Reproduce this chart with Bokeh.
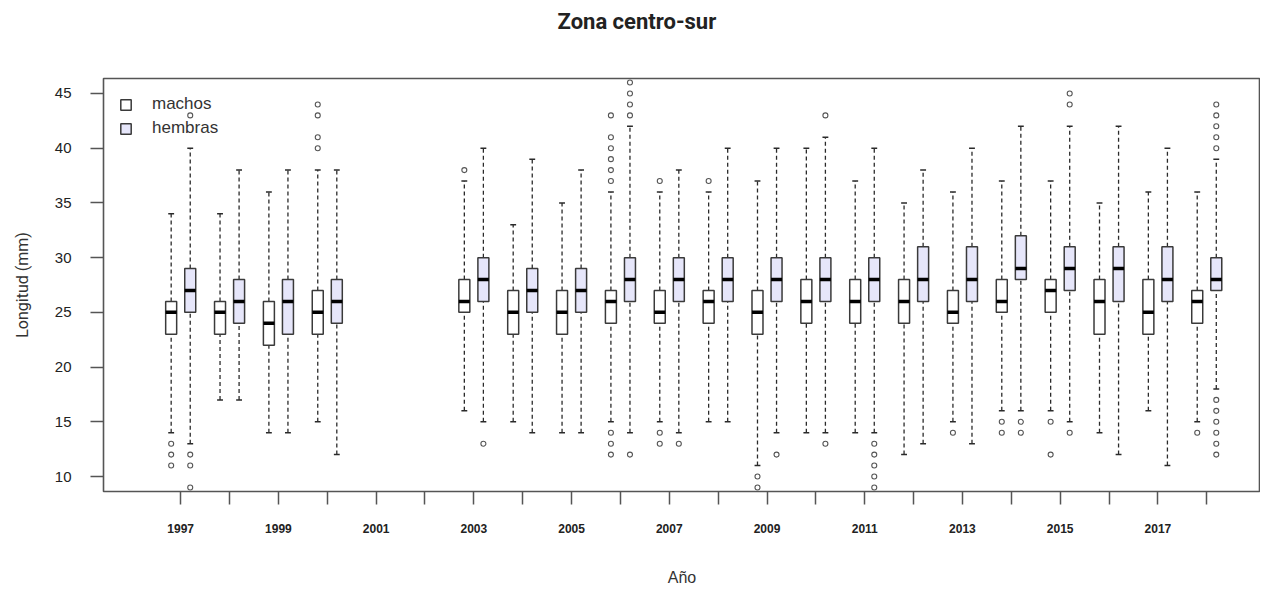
from bokeh.plotting import figure
from bokeh.models import ColumnDataSource, FixedTicker, Legend, LegendItem, Range1d, Title
from bokeh.embed import file_html
from bokeh.resources import INLINE

# ---- data ----
years = [1997, 1998, 1999, 2000, 2003, 2004, 2005, 2006, 2007, 2008,
         2009, 2010, 2011, 2012, 2013, 2014, 2015, 2016, 2017, 2018]

m_low  = [14, 17, 14, 15, 16, 15, 14, 15, 15, 15, 11, 14, 14, 12, 15, 16, 16, 14, 16, 15]
m_q1   = [23, 23, 22, 23, 25, 23, 23, 24, 24, 24, 23, 24, 24, 24, 24, 25, 25, 23, 23, 24]
m_med  = [25, 25, 24, 25, 26, 25, 25, 26, 25, 26, 25, 26, 26, 26, 25, 26, 27, 26, 25, 26]
m_q3   = [26, 26, 26, 27, 28, 27, 27, 27, 27, 27, 27, 28, 28, 28, 27, 28, 28, 28, 28, 27]
m_high = [34, 34, 36, 38, 37, 33, 35, 36, 36, 36, 37, 40, 37, 35, 36, 37, 37, 35, 36, 36]
m_out  = [[13, 12, 11], [], [], [44, 43, 41, 40], [38], [], [],
          [43, 41, 40, 39, 38, 37, 14, 13, 12], [37, 14, 13], [37], [10, 9],
          [], [], [], [14], [15, 14], [15, 12], [], [], [14]]

f_low  = [13, 17, 14, 12, 15, 14, 14, 14, 14, 15, 14, 14, 14, 13, 13, 16, 15, 12, 11, 18]
f_q1   = [25, 24, 23, 24, 26, 25, 25, 26, 26, 26, 26, 26, 26, 26, 26, 28, 27, 26, 26, 27]
f_med  = [27, 26, 26, 26, 28, 27, 27, 28, 28, 28, 28, 28, 28, 28, 28, 29, 29, 29, 28, 28]
f_q3   = [29, 28, 28, 28, 30, 29, 29, 30, 30, 30, 30, 30, 30, 31, 31, 32, 31, 31, 31, 30]
f_high = [40, 38, 38, 38, 40, 39, 38, 42, 38, 40, 40, 41, 40, 38, 40, 42, 42, 42, 40, 39]
f_out  = [[43, 12, 11, 9], [], [], [], [13], [], [], [46, 45, 44, 43, 12], [13], [], [12],
          [43, 13], [13, 12, 11, 10, 9], [], [], [15, 14], [45, 44, 14], [], [],
          [44, 43, 42, 41, 40, 17, 16, 15, 14, 13, 12]]

series_names = ["machos", "hembras"]
title_text = "Zona centro-sur"
tick_years = list(range(1997, 2019))
y_ticks = [10, 15, 20, 25, 30, 35, 40, 45]

# ---- styling ----
OFFSET = 0.195
BOX_W = 0.225
STAPLE_HALF = 0.06
fills = ["#FFFFFF", "#E6E6FA"]
BOX_LINE = "#3a3a3a"
WHISK = "#2a2a2a"

p = figure(width=1260, height=592,
           x_range=Range1d(1995.42, 2019.10), y_range=Range1d(8.63, 46.37),
           output_backend="svg", toolbar_location=None,
           min_border_left=103, min_border_right=0, min_border_top=78, min_border_bottom=101)

p.xgrid.visible = False
p.ygrid.visible = False
p.outline_line_color = "#555555"
p.outline_line_width = 1.6

# spacer (nearest the frame) then the real title (outermost)
spacer = Title(text=" ", text_font_size="1px", standoff=32)
p.add_layout(spacer, "above")
main_title = Title(text=title_text, align="left", offset=454, vertical_align="top",
                   standoff=16, text_font="Roboto", text_font_style="bold",
                   text_font_size="22px", text_color="#222222")
p.add_layout(main_title, "above")

box_renderers = []
datasets = [
    (-OFFSET, m_low, m_q1, m_med, m_q3, m_high, m_out),
    (OFFSET, f_low, f_q1, f_med, f_q3, f_high, f_out),
]
for i, (off, lo, q1, md, q3, hi, outs) in enumerate(datasets):
    xs = [y + off for y in years]
    src = ColumnDataSource(dict(
        x=xs, xl=[x - STAPLE_HALF for x in xs], xr=[x + STAPLE_HALF for x in xs],
        bl=[x - BOX_W / 2 for x in xs], br=[x + BOX_W / 2 for x in xs],
        lo=lo, q1=q1, md=md, q3=q3, hi=hi))
    p.segment(x0="x", y0="q3", x1="x", y1="hi", source=src, line_color=WHISK,
              line_width=1.3, line_dash="4 3")
    p.segment(x0="x", y0="lo", x1="x", y1="q1", source=src, line_color=WHISK,
              line_width=1.3, line_dash="4 3")
    p.segment(x0="xl", y0="hi", x1="xr", y1="hi", source=src, line_color=WHISK, line_width=1.5)
    p.segment(x0="xl", y0="lo", x1="xr", y1="lo", source=src, line_color=WHISK, line_width=1.5)
    r = p.vbar(x="x", width=BOX_W, bottom="q1", top="q3", source=src,
               fill_color=fills[i], line_color=BOX_LINE, line_width=1.5)
    box_renderers.append(r)
    p.segment(x0="bl", y0="md", x1="br", y1="md", source=src, line_color="#000000",
              line_width=3.5)
    ox, oy = [], []
    for x, vals in zip(xs, outs):
        for v in vals:
            ox.append(x)
            oy.append(v)
    p.scatter(ox, oy, marker="circle", size=5, fill_color=None,
              line_color="#555555", line_width=1.1)

legend = Legend(items=[LegendItem(label=series_names[0], renderers=[box_renderers[0]]),
                       LegendItem(label=series_names[1], renderers=[box_renderers[1]])],
                location="top_left")
legend.border_line_color = None
legend.background_fill_alpha = 0
legend.margin = 16
legend.padding = 0
legend.spacing = 4
legend.glyph_width = 13
legend.glyph_height = 13
legend.label_standoff = 20
legend.label_text_font = "Liberation Sans"
legend.label_text_font_size = "17px"
legend.label_text_color = "#333333"
p.add_layout(legend)

# axes
p.xaxis.ticker = FixedTicker(ticks=tick_years)
p.xaxis.major_label_overrides = {
    y: (str(y) if (y - 1997) % 2 == 0 and y <= 2017 else "") for y in tick_years}
p.yaxis.ticker = FixedTicker(ticks=y_ticks)
for ax in (p.xaxis, p.yaxis):
    ax.axis_line_color = None
    ax.major_tick_in = 0
    ax.major_tick_out = 13
    ax.major_tick_line_color = "#555555"
    ax.major_tick_line_width = 1.5
    ax.minor_tick_line_color = None
    ax.major_label_text_color = "#222222"
    ax.major_label_text_font = "Liberation Sans"
    ax.axis_label_text_font_style = "normal"
    ax.axis_label_text_color = "#333333"

p.xaxis.major_label_text_font_size = "12px"
p.xaxis.major_label_text_font_style = "bold"
p.xaxis.major_label_standoff = 19
p.xaxis.axis_label = "Año"
p.xaxis.axis_label_text_font = "Liberation Sans"
p.xaxis.axis_label_text_font_size = "16px"
p.xaxis.axis_label_standoff = 33

p.yaxis.major_label_text_font_size = "15px"
p.yaxis.major_label_standoff = 19
p.yaxis.axis_label = "Longitud (mm)"
p.yaxis.axis_label_text_font = "Roboto"
p.yaxis.axis_label_text_font_size = "16px"
p.yaxis.axis_label_standoff = 20

open("out.html", "w").write(file_html(p, INLINE))
